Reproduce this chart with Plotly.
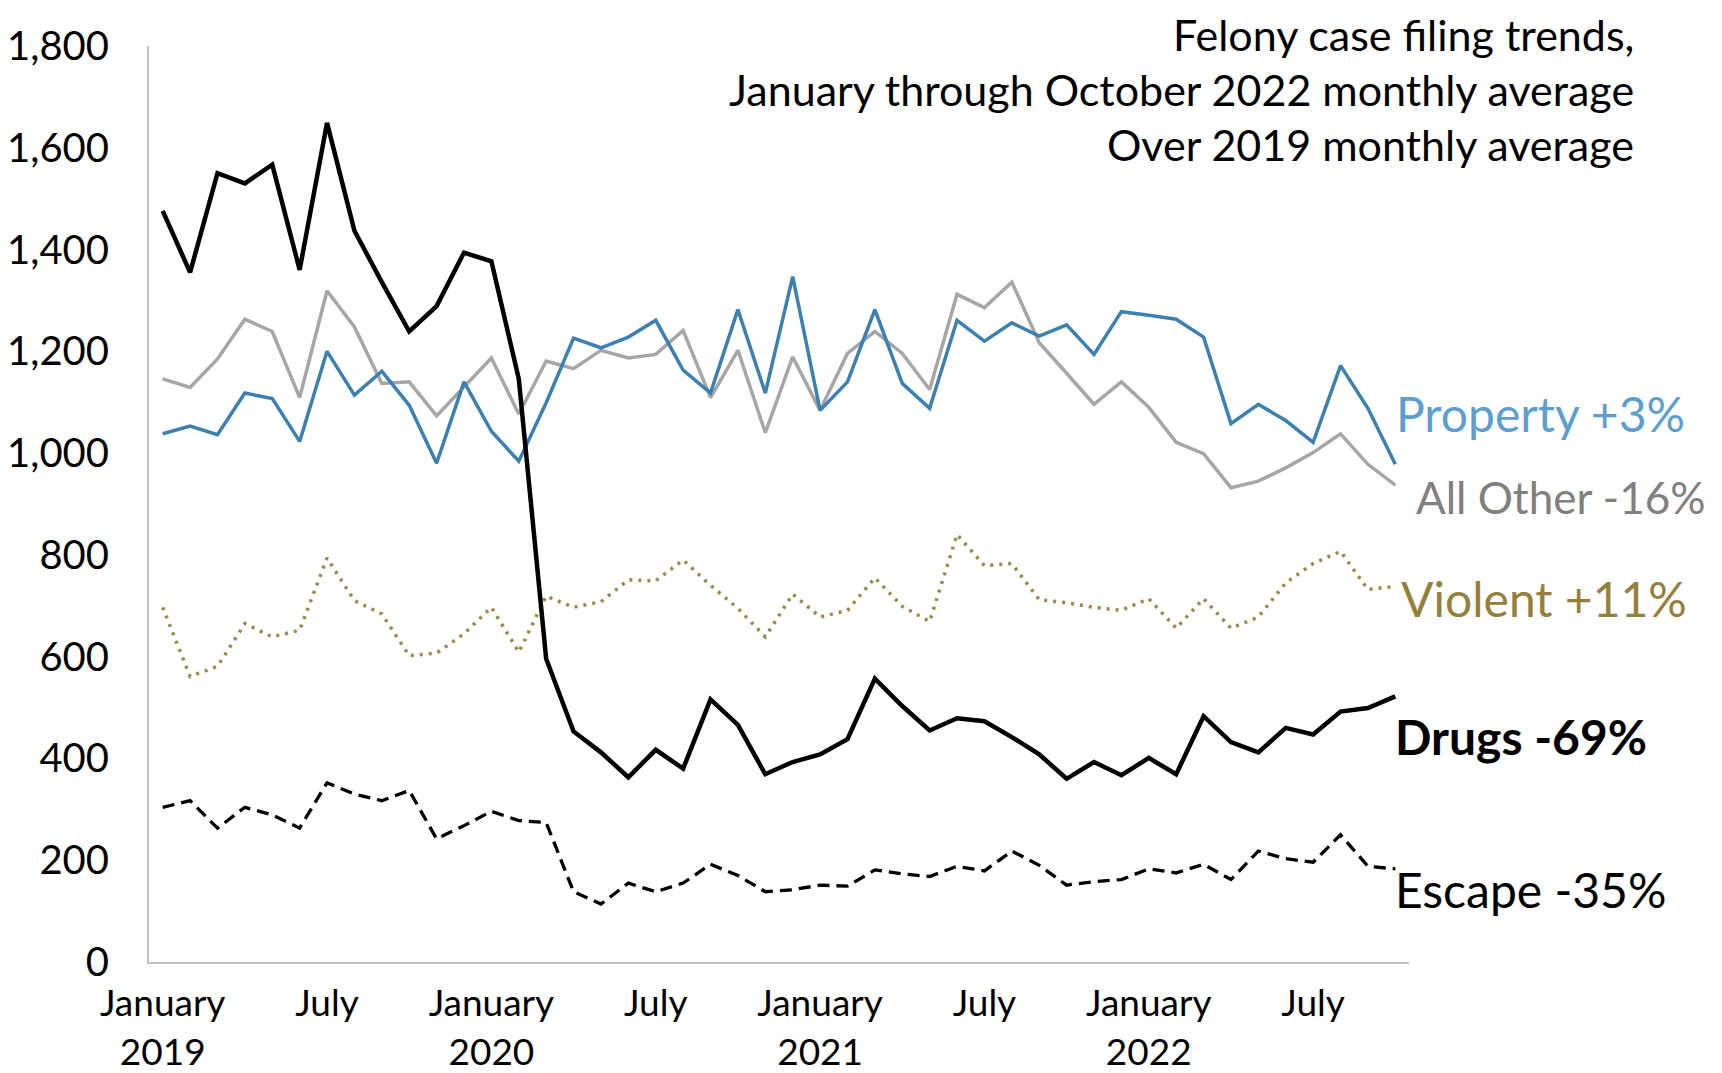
import plotly.graph_objects as go

# Monthly felony case filings, January 2019 through October 2022
months = [f"{y}-{m:02d}" for y in (2019, 2020, 2021, 2022) for m in range(1, 13)][:46]

drugs = [1476, 1355, 1550, 1530, 1567, 1360, 1649, 1437, 1336, 1239, 1289, 1394,
         1377, 1146, 596, 453, 412, 363, 417, 380, 516, 466, 369, 393,
         408, 438, 557, 503, 455, 479, 473, 442, 408, 360, 393, 367,
         401, 369, 483, 432, 412, 460, 447, 492, 499, 522]
prop = [1038, 1053, 1036, 1118, 1107, 1023, 1200, 1114, 1161, 1094, 980, 1140,
        1043, 984, 1099, 1226, 1207, 1228, 1261, 1163, 1118, 1282, 1118, 1347,
        1084, 1140, 1282, 1137, 1088, 1261, 1220, 1256, 1230, 1252, 1194, 1278,
        1271, 1263, 1228, 1058, 1096, 1064, 1021, 1172, 1088, 978]
other = [1146, 1129, 1185, 1263, 1239, 1109, 1319, 1248, 1137, 1140, 1073, 1129,
         1187, 1077, 1181, 1166, 1202, 1187, 1194, 1241, 1109, 1202, 1040, 1189,
         1084, 1196, 1239, 1196, 1125, 1312, 1286, 1336, 1217, 1157, 1096, 1140,
         1090, 1021, 999, 932, 945, 971, 1001, 1038, 978, 937]
violent = [697, 561, 581, 665, 639, 652, 794, 710, 684, 602, 607, 645,
           697, 609, 719, 697, 708, 751, 749, 790, 740, 695, 639, 723,
           678, 691, 755, 699, 669, 840, 779, 783, 712, 706, 697, 691,
           714, 656, 714, 656, 678, 745, 783, 807, 732, 738]
escape = [304, 317, 263, 304, 289, 263, 352, 330, 317, 337, 242, 268,
          296, 278, 274, 138, 114, 155, 138, 155, 192, 170, 138, 142,
          151, 149, 181, 173, 168, 188, 179, 218, 190, 151, 158, 162,
          183, 175, 192, 162, 218, 203, 196, 250, 188, 183]

tick_vals = months[::6]
tick_text = ["January<br>2019", "July", "January<br>2020", "July",
             "January<br>2021", "July", "January<br>2022", "July"]

title_lines = ["Felony case filing trends,",
               "January through October 2022 monthly average",
               "Over 2019 monthly average"]

FONT = "Lato, 'Open Sans', sans-serif"

fig = go.Figure()

# name, values, line colour, width, dash
series = [
    ("All Other", other, "#A6A6A6", 3.5, "solid"),
    ("Property", prop, "#3C80B2", 3.5, "solid"),
    ("Violent", violent, "#968A4C", 3.5, "3px,6px"),
    ("Escape", escape, "#000000", 3.3, "12px,7px"),
    ("Drugs", drugs, "#000000", 4.5, "solid"),
]
for name, vals, color, width, dash in series:
    fig.add_trace(go.Scatter(
        x=months, y=vals, mode="lines", name=name,
        line=dict(color=color, width=width, dash=dash),
    ))

# ── Right-hand series labels ──
labels = [
    ("Property +3%", 0.988, 1077, "#5C9ECF", False, 48),
    ("All Other -16%", 1.004, 914, "#808080", False, 44),
    ("Violent +11%", 0.992, 715, "#94803A", False, 48),
    ("Drugs -69%", 0.987, 444, "#000000", True, 48),
    ("Escape -35%", 0.987, 143, "#000000", False, 48),
]
for text, xp, yv, color, bold, size in labels:
    fig.add_annotation(
        x=xp, xref="paper", y=yv, yref="y",
        text=f"<b>{text}</b>" if bold else text,
        showarrow=False, xanchor="left", yanchor="middle",
        font=dict(family=FONT, size=size, color=color),
    )

# ── Top-right caption ──
for line, yp in zip(title_lines, [1.013, 0.953, 0.893]):
    fig.add_annotation(
        x=1.180, xref="paper", y=yp, yref="paper",
        text=line, showarrow=False, xanchor="right", yanchor="middle",
        font=dict(family=FONT, size=43, color="#000000"),
    )

fig.update_layout(
    width=1722, height=1073,
    margin=dict(l=141, r=321, t=38, b=119),
    plot_bgcolor="white", paper_bgcolor="white",
    showlegend=False,
    font=dict(family=FONT, size=38, color="#000000"),
    xaxis=dict(
        type="category", range=[-0.5, 45.5],
        tickvals=tick_vals, ticktext=tick_text,
        showgrid=False, showline=True, linecolor="#BFBFBF", linewidth=2,
        ticks="", tickfont=dict(size=37), ticklabelstandoff=8,
        automargin=False,
    ),
    yaxis=dict(
        range=[0, 1800], dtick=200, tickformat=",",
        showgrid=False, showline=True, linecolor="#BFBFBF", linewidth=2,
        ticks="", zeroline=False, tickfont=dict(size=40),
        ticklabelstandoff=30, automargin=False,
    ),
)

fig.write_html("out.html")
